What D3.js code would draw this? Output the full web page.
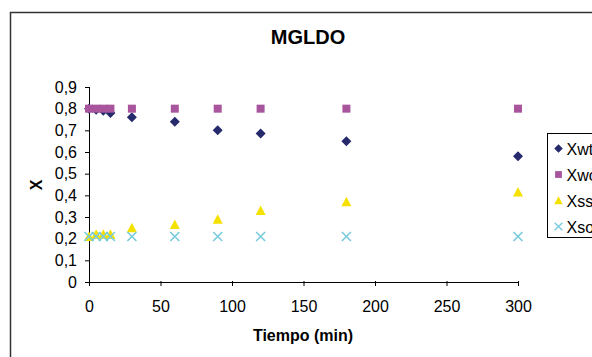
<!DOCTYPE html>
<html>
<head>
<meta charset="utf-8">
<script src="https://cdn.jsdelivr.net/npm/d3@7"></script>
<style>
  body { margin: 0; background: #fff; }
  text { font-family: Arial, "Liberation Sans", sans-serif; fill: #000; }
</style>
</head>
<body>
<div id="chart"></div>
<script>
// data
var tiempo = [0, 5, 10, 15, 30, 60, 90, 120, 180, 300];
var xwt = [0.80, 0.795, 0.79, 0.78, 0.76, 0.74, 0.70, 0.685, 0.65, 0.58];
var xwo = [0.80, 0.80, 0.80, 0.80, 0.80, 0.80, 0.80, 0.80, 0.80, 0.80];
var xss = [0.21, 0.22, 0.22, 0.22, 0.25, 0.265, 0.29, 0.33, 0.37, 0.415];
var xso = [0.21, 0.21, 0.21, 0.21, 0.21, 0.21, 0.21, 0.21, 0.21, 0.21];
var seriesNames = ["Xwt", "Xwo", "Xss", "Xso"];
var xTicks = [0, 50, 100, 150, 200, 250, 300];
var yTicks = [0, 0.1, 0.2, 0.3, 0.4, 0.5, 0.6, 0.7, 0.8, 0.9];

var svgWidth = 592, svgHeight = 357;
var margin = { top: 87, left: 89 };
var chartWidth = 429, chartHeight = 195;

var svg = d3.select("#chart").append("svg")
  .attr("width", svgWidth)
  .attr("height", svgHeight);

// outer frame (runs off the right and bottom edges like the original)
svg.append("rect")
  .attr("x", 10.5).attr("y", 12.5)
  .attr("width", 620).attr("height", 400)
  .attr("fill", "none")
  .attr("stroke", "#333")
  .attr("stroke-width", 1.5);

var g = svg.append("g")
  .attr("transform", `translate(${margin.left}, ${margin.top})`);

var x = d3.scaleLinear().domain([0, 300]).range([0, chartWidth]);
var y = d3.scaleLinear().domain([0, 0.9]).range([chartHeight, 0]);

var fmt = d => String(d3.format(".1~f")(d)).replace(".", ",");

var bottomAxis = d3.axisBottom(x).tickValues(xTicks).tickSize(4).tickPadding(15);
var leftAxis = d3.axisLeft(y).tickValues(yTicks).tickFormat(fmt).tickSize(4).tickPadding(8);

var xa = g.append("g")
  .attr("transform", `translate(0, ${chartHeight})`)
  .call(bottomAxis);
var ya = g.append("g").call(leftAxis);

[xa, ya].forEach(function(a) {
  a.select(".domain").attr("stroke", "#000").attr("stroke-width", 1);
  a.selectAll(".tick line").attr("stroke", "#000");
  a.selectAll(".tick text")
    .attr("font-size", "16px")
    .attr("font-family", "Arial, 'Liberation Sans', sans-serif")
    .attr("fill", "#000");
});
// excel-style ticks crossing the axis
xa.selectAll(".tick line").attr("y1", -1).attr("y2", 4);
ya.selectAll(".tick line").attr("x1", 1).attr("x2", -4);

var series = [
  { name: seriesNames[0], vals: xwt, shape: "diamond", color: "#262a6c" },
  { name: seriesNames[1], vals: xwo, shape: "square", color: "#a8559d" },
  { name: seriesNames[2], vals: xss, shape: "triangle", color: "#f5e100" },
  { name: seriesNames[3], vals: xso, shape: "cross", color: "#78cbdc" }
];

function drawMarker(sel, s) {
  if (s.shape === "diamond") {
    sel.append("path").attr("d", "M0,-5L5,0L0,5L-5,0Z").attr("fill", s.color);
  } else if (s.shape === "square") {
    sel.append("rect").attr("x", -4).attr("y", -4).attr("width", 8).attr("height", 8).attr("fill", s.color);
  } else if (s.shape === "triangle") {
    sel.append("path").attr("d", "M0,-5L5,4.5L-5,4.5Z").attr("fill", s.color);
  } else {
    sel.append("path").attr("d", "M-4.5,-4.5L4.5,4.5M-4.5,4.5L4.5,-4.5")
      .attr("stroke", s.color).attr("stroke-width", 1.6).attr("fill", "none");
  }
}

series.forEach(function(s) {
  g.selectAll(".pt-" + s.name)
    .data(tiempo)
    .enter()
    .append("g")
    .attr("class", "pt-" + s.name)
    .attr("transform", (d, i) => `translate(${x(d)}, ${y(s.vals[i])})`)
    .each(function() { drawMarker(d3.select(this), s); });
});

// title
svg.append("text")
  .attr("x", 308).attr("y", 44)
  .attr("text-anchor", "middle")
  .attr("font-size", "20px").attr("font-weight", "bold")
  .text("MGLDO");

// axis labels
svg.append("text")
  .attr("transform", "translate(42, 185) rotate(-90)")
  .attr("text-anchor", "middle")
  .attr("font-size", "16px").attr("font-weight", "bold")
  .text("X");

svg.append("text")
  .attr("x", 303).attr("y", 341)
  .attr("text-anchor", "middle")
  .attr("font-size", "16px").attr("font-weight", "bold")
  .text("Tiempo (min)");

// legend (clipped by the right edge, as in the original)
var legend = svg.append("g").attr("transform", "translate(547.5, 133.5)");
legend.append("rect")
  .attr("width", 80).attr("height", 104)
  .attr("fill", "#fff").attr("stroke", "#000").attr("stroke-width", 1);

series.forEach(function(s, i) {
  var row = legend.append("g").attr("transform", `translate(11, ${15 + i * 26})`);
  row.append("g").attr("transform", "scale(0.85)").call(function(sel) { drawMarker(sel, s); });
  row.append("text").attr("x", 8).attr("y", 6)
    .attr("font-size", "16px")
    .text(s.name);
});
</script>
</body>
</html>
